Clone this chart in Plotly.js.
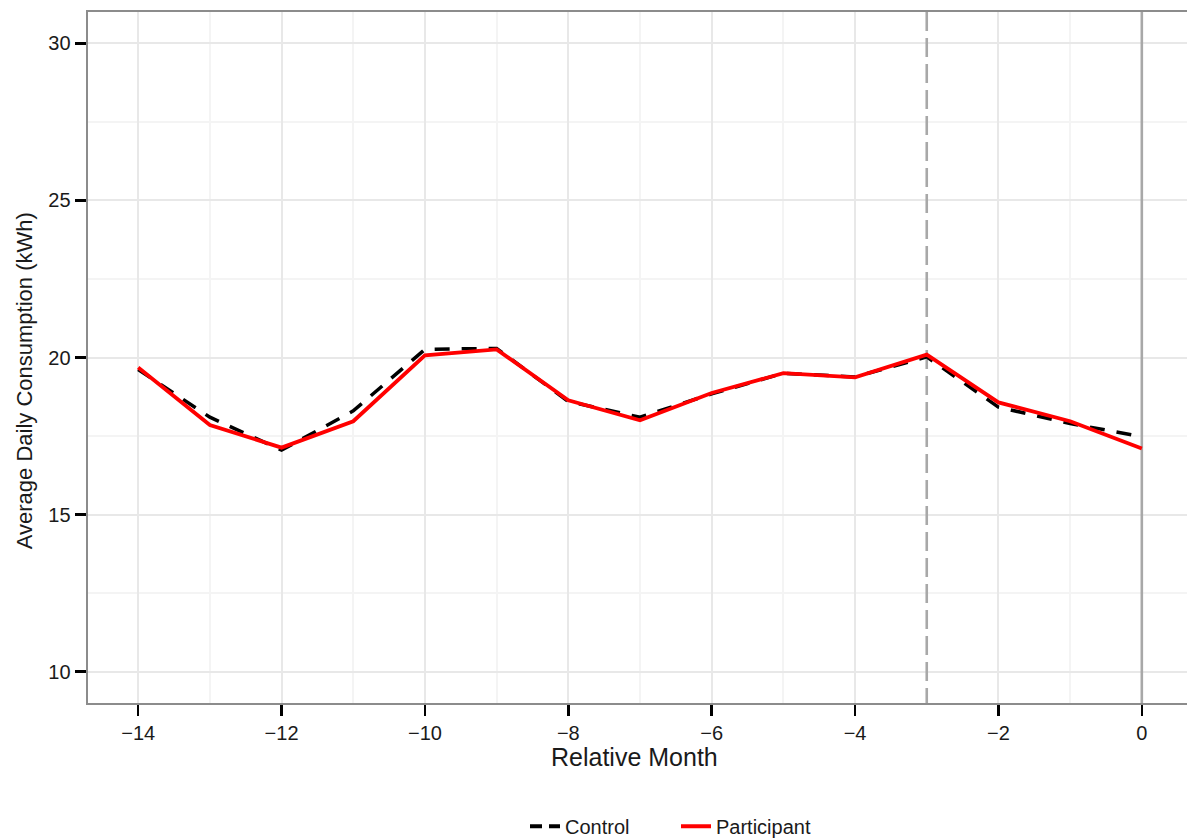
<!DOCTYPE html>
<html>
<head>
<meta charset="utf-8">
<script src="https://cdn.plot.ly/plotly-3.0.1.min.js"></script>
<style>
html,body{margin:0;padding:0;overflow:hidden;background:#fff;}
#chart{width:1200px;height:838px;}
</style>
</head>
<body>
<div id="chart"></div>
<script>
const months = [-14,-13,-12,-11,-10,-9,-8,-7,-6,-5,-4,-3,-2,-1,0];
const participant = [19.68,17.85,17.13,17.97,20.07,20.26,18.64,18.00,18.87,19.50,19.37,20.09,18.57,17.97,17.10];
const control = [19.62,18.10,17.05,18.30,20.26,20.29,18.60,18.10,18.84,19.50,19.38,20.02,18.42,17.90,17.48];
const seriesNames = ["Control","Participant"];
const markerMonths = [-3, 0];
const xTickVals = [-14,-12,-10,-8,-6,-4,-2,0];
const xMinorVals = [-13,-11,-9,-7,-5,-1];
const yTickVals = [10,15,20,25,30];
const yMinorVals = [12.5,17.5,22.5,27.5];
const yRange = [9, 31];
const xRange = [-14.7, 0.7];
const xTitle = "Relative Month";
const yTitle = "Average Daily Consumption (kWh)";

const font = "Liberation Sans, Arial, sans-serif";
const txt = "#1a1a1a";

const traces = [
  // reference vertical lines (drawn first, under the series)
  {x: [markerMonths[0], markerMonths[0]], y: [yRange[1], yRange[0]], type: "scatter", mode: "lines",
   showlegend: false, hoverinfo: "skip", line: {color: "#a8a8a8", width: 2.6, dash: "19px,7px"}},
  {x: [markerMonths[1], markerMonths[1]], y: yRange, type: "scatter", mode: "lines",
   showlegend: false, hoverinfo: "skip", line: {color: "#a8a8a8", width: 2.6}},
  {x: months, y: control, name: seriesNames[0], type: "scatter", mode: "lines", showlegend: false,
   line: {color: "#000000", width: 3.5, dash: "15px,12px"}},
  {x: months, y: participant, name: seriesNames[1], type: "scatter", mode: "lines", showlegend: false,
   line: {color: "#ff0000", width: 3.8}},
  // legend entries
  {x: [null], y: [null], name: seriesNames[0], type: "scatter", mode: "lines",
   line: {color: "#000000", width: 4, dash: "12px,7px,12px"}},
  {x: [null], y: [null], name: seriesNames[1], type: "scatter", mode: "lines",
   line: {color: "#ff0000", width: 4}}
];

const annotations = [
  {text: xTitle, xref: "paper", yref: "paper", x: 0.4946, y: -0.078, xanchor: "center", yanchor: "middle",
   showarrow: false, font: {size: 25, color: txt}},
  {text: yTitle, xref: "paper", yref: "paper", x: -0.058, y: 0.467, xanchor: "center", yanchor: "middle",
   textangle: -90, showarrow: false, font: {size: 22, color: txt}}
];

const axisCommon = {
  ticks: "outside", ticklen: 11, tickwidth: 2.4, tickcolor: "#000000",
  showline: true, linecolor: "#8c8c8c", linewidth: 2.4, mirror: true,
  showgrid: true, gridcolor: "#e8e8e8", gridwidth: 2,
  zeroline: false, tickfont: {size: 20, color: txt}, automargin: false
};

const layout = {
  width: 1200, height: 838,
  margin: {l: 88, r: 8, t: 12, b: 135},
  paper_bgcolor: "#ffffff", plot_bgcolor: "#ffffff",
  font: {family: font, color: txt, size: 20},
  showlegend: true,
  legend: {orientation: "h", xref: "container", yref: "container", x: 0.4375, xanchor: "left",
           y: 0.014, yanchor: "middle", font: {size: 20, color: txt}, traceorder: "normal",
           entrywidth: 106, entrywidthmode: "pixels", bgcolor: "rgba(0,0,0,0)"},
  xaxis: Object.assign({}, axisCommon, {
    range: xRange, tickvals: xTickVals,
    ticktext: xTickVals.map(v => v < 0 ? "\u2212" + Math.abs(v) : String(v)),
    minor: {tickvals: xMinorVals, showgrid: true, gridcolor: "#f4f4f4", gridwidth: 2, ticks: ""}
  }),
  yaxis: Object.assign({}, axisCommon, {
    range: yRange, tickvals: yTickVals,
    minor: {tickvals: yMinorVals, showgrid: true, gridcolor: "#f4f4f4", gridwidth: 2, ticks: ""}
  }),
  annotations: annotations
};

Plotly.newPlot("chart", traces, layout, {displayModeBar: false, staticPlot: true});
</script>
</body>
</html>
